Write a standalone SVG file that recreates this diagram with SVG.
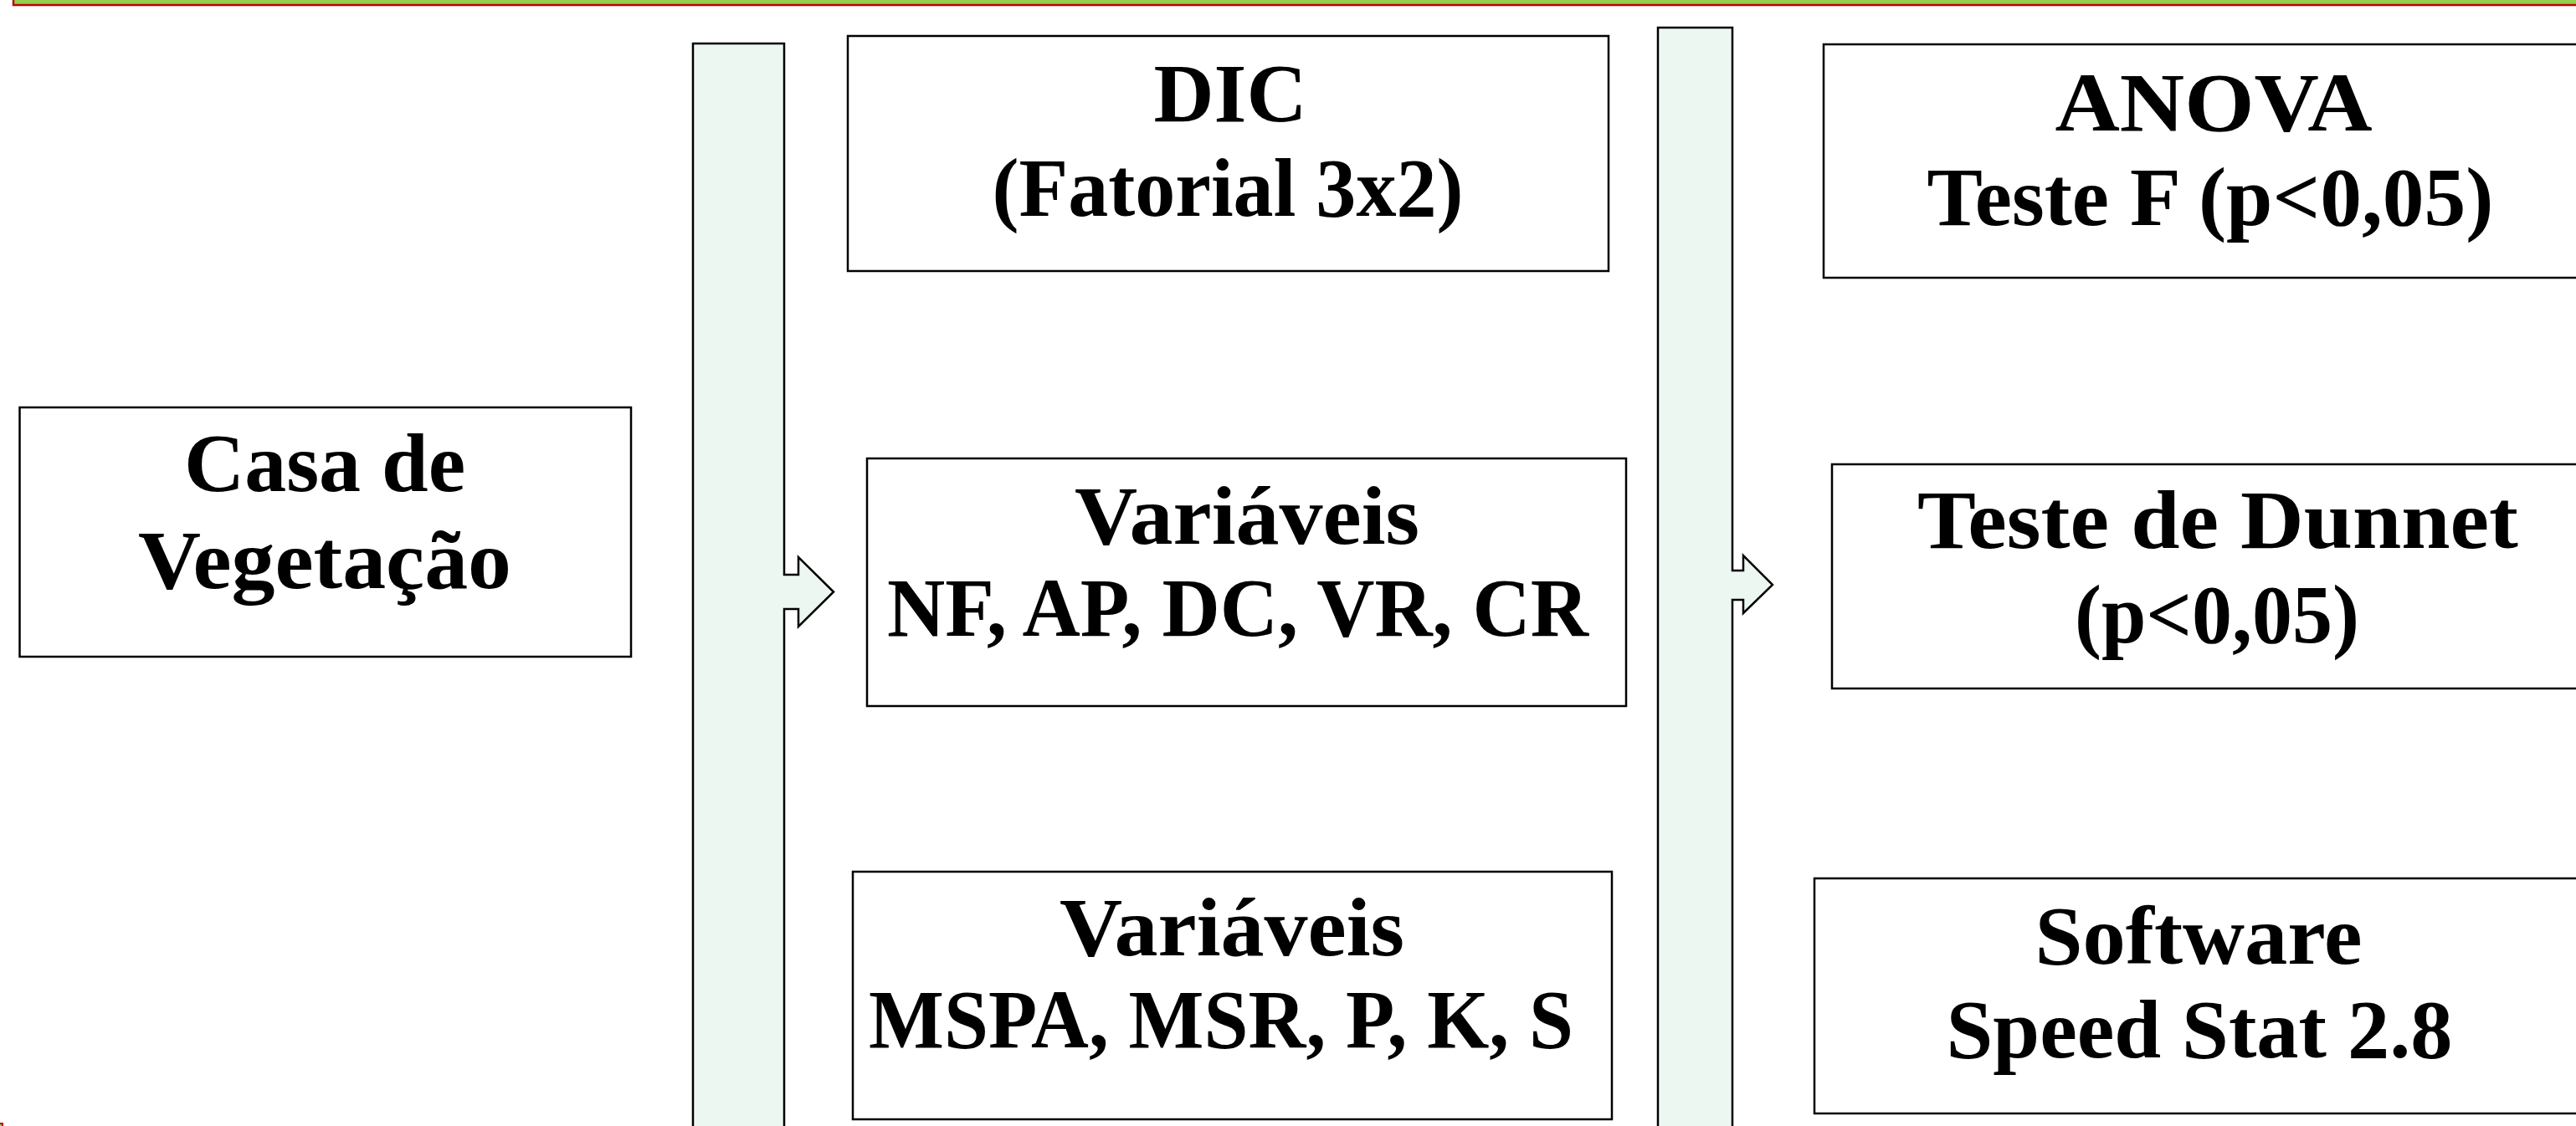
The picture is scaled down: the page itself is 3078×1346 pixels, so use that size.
<svg xmlns="http://www.w3.org/2000/svg" width="3078" height="1346" viewBox="0 0 3078 1346">
<style>
.box{fill:#ffffff;stroke:#000000;stroke-width:2.5}
.col{fill:#EDF7F1;stroke:#000000;stroke-width:2.5;stroke-linejoin:miter}
.t{font-family:"Liberation Serif","Times New Roman",serif;font-weight:bold;font-size:100px;fill:#000000;text-anchor:middle}
</style>
<rect width="3078" height="1346" fill="#ffffff"/>
<g id="top-bar">
<rect x="16" y="-20" width="3100" height="26" fill="#92D050" stroke="#C00000" stroke-width="2.5"/>
</g>
<rect x="-10" y="1343" width="13" height="10" fill="#92D050" stroke="#C00000" stroke-width="2"/>
<g id="connectors">
<polygon class="col" points="828,52 937,52 937,687 954,687 954,666 996,707.5 954,749 954,728 937,728 937,1360 828,1360"/>
<polygon class="col" points="1981,33 2070,33 2070,682 2083,682 2083,664 2118,699 2083,733 2083,717 2070,717 2070,1360 1981,1360"/>
</g>
<g id="casa">
<rect class="box" x="23.5" y="487" width="730.5" height="298"/>
<text class="t" x="388" y="587" textLength="336" lengthAdjust="spacingAndGlyphs">Casa de</text>
<text class="t" x="388" y="703" textLength="446" lengthAdjust="spacingAndGlyphs">Vegetação</text>
</g>
<g id="dic">
<rect class="box" x="1013" y="43" width="909" height="281"/>
<text class="t" x="1470" y="145" textLength="183" lengthAdjust="spacingAndGlyphs">DIC</text>
<text class="t" x="1467" y="258" textLength="563" lengthAdjust="spacingAndGlyphs">(Fatorial 3x2)</text>
</g>
<g id="variaveis1">
<rect class="box" x="1036" y="548" width="907" height="296"/>
<text class="t" x="1490" y="650" textLength="412" lengthAdjust="spacingAndGlyphs">Variáveis</text>
<text class="t" x="1479" y="760" textLength="838" lengthAdjust="spacingAndGlyphs">NF, AP, DC, VR, CR</text>
</g>
<g id="variaveis2">
<rect class="box" x="1019" y="1042" width="907" height="296"/>
<text class="t" x="1472" y="1142" textLength="412" lengthAdjust="spacingAndGlyphs">Variáveis</text>
<text class="t" x="1459" y="1252" textLength="842" lengthAdjust="spacingAndGlyphs">MSPA, MSR, P, K, S</text>
</g>
<g id="anova">
<rect class="box" x="2179" y="53" width="930" height="279"/>
<text class="t" x="2645" y="156" textLength="379" lengthAdjust="spacingAndGlyphs">ANOVA</text>
<text class="t" x="2641" y="269" textLength="677" lengthAdjust="spacingAndGlyphs">Teste F (p&lt;0,05)</text>
</g>
<g id="dunnet">
<rect class="box" x="2189" y="555" width="930" height="268"/>
<text class="t" x="2650" y="655" textLength="718" lengthAdjust="spacingAndGlyphs">Teste de Dunnet</text>
<text class="t" x="2649" y="768" textLength="340" lengthAdjust="spacingAndGlyphs">(p&lt;0,05)</text>
</g>
<g id="software">
<rect class="box" x="2168" y="1050" width="940" height="281"/>
<text class="t" x="2627" y="1152" textLength="391" lengthAdjust="spacingAndGlyphs">Software</text>
<text class="t" x="2628" y="1264" textLength="605" lengthAdjust="spacingAndGlyphs">Speed Stat 2.8</text>
</g>
</svg>
